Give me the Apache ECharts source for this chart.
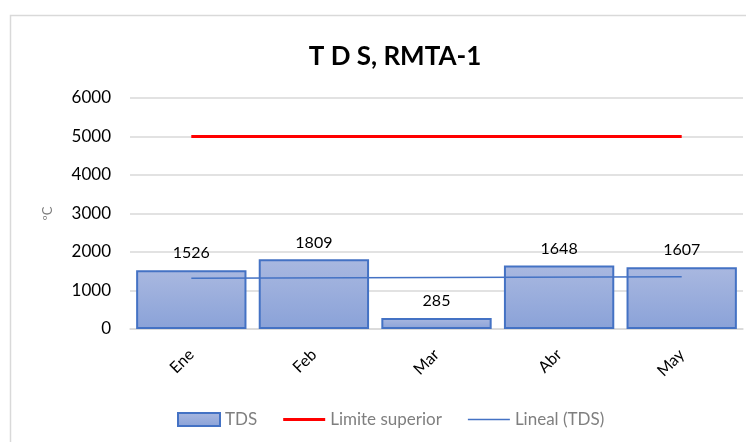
<!DOCTYPE html>
<html>
<head>
<meta charset="utf-8">
<script src="https://cdn.jsdelivr.net/npm/echarts@6/dist/echarts.min.js"></script>
<style>
  html, body { margin: 0; padding: 0; background: #fff; }
  #chart { width: 746px; height: 442px; }
</style>
</head>
<body>
<div id="chart"></div>
<script>
var months = ["Ene", "Feb", "Mar", "Abr", "May"];
var tds = [1526, 1809, 285, 1648, 1607];
var limite = [5000, 5000, 5000, 5000, 5000];
// tendencia lineal, solo los extremos
var lineal = [1320, null, null, null, 1360];
var yTicks = [0, 1000, 2000, 3000, 4000, 5000, 6000];

var font = "Lato";
var myChart = echarts.init(document.getElementById("chart"));
var option = {
  backgroundColor: "#fff",
  animation: false,
  textStyle: { fontFamily: font },
  title: {
    text: "T D S, RMTA-1",
    left: 390,
    top: 39,
    textAlign: "center",
    textStyle: { fontFamily: font, fontSize: 26, fontWeight: "bold", color: "#000" }
  },
  graphic: [
    {
      type: "rect",
      shape: { x: 10.5, y: 15.5, width: 800, height: 500 },
      style: { fill: "none", stroke: "#d9d9d9", lineWidth: 1.5 },
      silent: true
    }
  ],
  legend: {
    bottom: 9,
    left: 172,
    itemGap: 26,
    itemWidth: 42,
    itemHeight: 13,
    textStyle: { fontFamily: font, fontSize: 17, color: "#7f7f7f" },
    data: [
      { name: "TDS", icon: "rect" },
      { name: "Limite superior", icon: "path://M0,0 L44,0 L44,3 L0,3 Z", itemStyle: { color: "#ff0000" } },
      { name: "Lineal (TDS)", icon: "path://M0,0 L44,0 L44,1.6 L0,1.6 Z", itemStyle: { color: "#4472c4" } }
    ]
  },
  grid: { left: 130, right: 3, top: 98, bottom: 113 },
  xAxis: {
    type: "category",
    data: months,
    axisLine: { show: true, lineStyle: { color: "#d9d9d9", width: 1.5 } },
    axisTick: { show: false },
    axisLabel: { rotate: 45, margin: 23, fontSize: 16, color: "#000", fontFamily: font }
  },
  yAxis: {
    type: "value",
    min: yTicks[0],
    max: yTicks[yTicks.length - 1],
    interval: 1000,
    name: "ºC",
    nameLocation: "middle",
    nameGap: 76,
    nameRotate: 90,
    nameTextStyle: { fontSize: 13, color: "#7f7f7f", fontFamily: font },
    axisLine: { show: false },
    axisTick: { show: false },
    axisLabel: {
      fontSize: 17,
      color: "#000",
      margin: 19,
      fontFamily: font,
      formatter: function (v) { return String(v); }
    },
    splitLine: { lineStyle: { color: "#d9d9d9", width: 1.5 } }
  },
  series: [
    {
      name: "TDS",
      type: "bar",
      data: tds,
      barCategoryGap: "10%",
      itemStyle: {
        borderColor: "#4472c4",
        borderWidth: 2,
        color: {
          type: "linear",
          x: 0, y: 0, x2: 0, y2: 1,
          colorStops: [
            { offset: 0, color: "#a9b8e0" },
            { offset: 1, color: "#8aa2d8" }
          ]
        }
      },
      label: {
        show: true,
        position: "top",
        distance: 9,
        fontSize: 16,
        color: "#000",
        fontFamily: font
      }
    },
    {
      name: "Limite superior",
      type: "line",
      data: limite,
      symbol: "none",
      lineStyle: { color: "#ff0000", width: 3 },
      itemStyle: { color: "#ff0000" }
    },
    {
      name: "Lineal (TDS)",
      type: "line",
      data: lineal,
      connectNulls: true,
      symbol: "none",
      lineStyle: { color: "#4472c4", width: 1.5 },
      itemStyle: { color: "#4472c4" }
    }
  ]
};
myChart.setOption(option);
</script>
</body>
</html>
